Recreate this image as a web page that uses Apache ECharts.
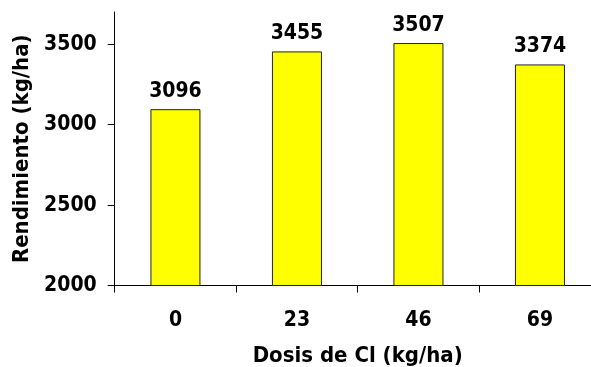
<!DOCTYPE html>
<html>
<head>
<meta charset="utf-8">
<script src="https://cdn.jsdelivr.net/npm/echarts@6/dist/echarts.min.js"></script>
<style>
  html, body { margin: 0; padding: 0; background: #fff; }
  #chart { width: 591px; height: 367px; }
</style>
</head>
<body>
<div id="chart"></div>
<script>
// Yield by chlorine dose
const doses = ['0', '23', '46', '69'];
const yields = [3096, 3455, 3507, 3374];
const yTicks = [2000, 2500, 3000, 3500];

const FONT = '"DejaVu Sans Condensed", "DejaVu Sans", sans-serif';

const chart = echarts.init(document.getElementById('chart'), null, { renderer: 'canvas' });
chart.setOption({
  animation: false,
  backgroundColor: '#ffffff',
  // plot area runs a little past the right edge, so the last band is clipped
  grid: {
    left: 114.7, width: 486, top: 12, bottom: 81.5,
    containLabel: false, outerBoundsMode: 'none'
  },
  xAxis: {
    type: 'category',
    data: doses,
    name: 'Dosis de Cl (kg/ha)',
    nameLocation: 'middle',
    nameGap: 60,
    nameTextStyle: { fontFamily: FONT, fontWeight: 'bold', fontSize: 22, color: '#000' },
    axisLine: { lineStyle: { color: '#000', width: 1 } },
    axisTick: { show: true, length: 7, inside: false, lineStyle: { color: '#000' } },
    axisLabel: { margin: 25, fontFamily: FONT, fontWeight: 'bold', fontSize: 21, color: '#000' },
    splitLine: { show: false }
  },
  yAxis: {
    type: 'value',
    min: 2000,
    max: 3700,
    interval: 500,
    name: 'Rendimiento (kg/ha)',
    nameLocation: 'middle',
    nameGap: 72,
    nameTextStyle: { fontFamily: FONT, fontWeight: 'bold', fontSize: 22, color: '#000' },
    axisLine: { show: true, lineStyle: { color: '#000', width: 1 } },
    axisTick: { show: true, length: 7, inside: false, customValues: yTicks, lineStyle: { color: '#000' } },
    axisLabel: {
      margin: 18,
      customValues: yTicks,
      formatter: (v) => String(v),
      fontFamily: FONT, fontWeight: 'bold', fontSize: 21, color: '#000'
    },
    splitLine: { show: false }
  },
  series: [{
    type: 'bar',
    data: yields,
    barWidth: 50,
    itemStyle: { color: '#ffff00', borderColor: '#222', borderWidth: 1 },
    label: {
      show: true,
      position: 'top',
      distance: 7,
      fontFamily: FONT,
      fontWeight: 'bold',
      fontSize: 21,
      color: '#000'
    }
  }]
});
</script>
</body>
</html>
